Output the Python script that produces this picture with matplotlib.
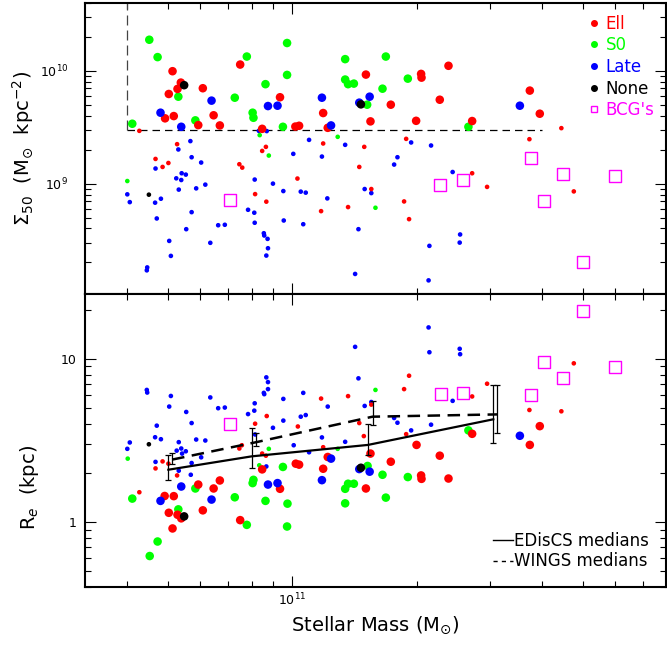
import matplotlib.pyplot as plt
import numpy as np
from matplotlib.lines import Line2D
from matplotlib.ticker import FuncFormatter, NullFormatter

# all values are log10: stellar mass (Msun), Sigma50 (Msun kpc^-2), Re (kpc)
sig_ell_big = [(10.711, 9.997), (10.731, 9.896), (10.723, 9.840), (10.702, 9.795), (10.693, 9.579),
               (10.714, 9.599), (10.784, 9.846), (10.810, 9.606), (10.825, 9.516), (10.773, 9.519),
               (10.874, 10.056), (10.970, 9.766), (10.927, 9.486), (11.007, 9.506), (11.016, 9.513),
               (11.074, 9.626), (11.085, 9.495), (11.177, 9.967), (11.188, 9.552), (11.237, 9.700),
               (11.298, 9.557), (11.310, 9.973), (11.311, 9.940), (11.376, 10.045), (11.355, 9.744),
               (11.433, 9.555), (11.572, 9.825), (11.596, 9.620)]
sig_s0_big = [(10.655, 10.276), (10.675, 10.122), (10.614, 9.531), (10.725, 9.771), (10.766, 9.561),
              (10.861, 9.762), (10.890, 10.127), (10.935, 9.882), (10.904, 9.629), (10.906, 9.584),
              (10.987, 10.247), (10.987, 9.964), (10.977, 9.504), (11.127, 10.104), (11.225, 10.127),
              (11.127, 9.923), (11.134, 9.882), (11.148, 9.887), (11.217, 9.842), (11.278, 9.931),
              (11.180, 9.700), (11.424, 9.504)]
sig_late_big = [(10.682, 9.629), (10.732, 9.504), (10.805, 9.736), (10.941, 9.688), (10.964, 9.691),
                (11.071, 9.762), (11.093, 9.516), (11.161, 9.718), (11.186, 9.771), (11.548, 9.691)]
sig_none_big = [(10.739, 9.873), (11.165, 9.703)]

sig_ell_small = [(10.631, 9.468), (10.722, 9.350), (10.670, 9.219), (10.687, 9.148), (10.701, 9.183),
                 (10.872, 9.172), (10.879, 9.142), (10.936, 9.326), (10.927, 9.290), (10.910, 8.907),
                 (10.937, 8.840), (11.074, 9.356), (11.012, 9.045), (11.173, 9.326), (11.161, 9.148),
                 (11.190, 8.952), (11.274, 9.397), (11.134, 8.792), (11.069, 8.756), (11.269, 8.842),
                 (11.281, 8.685), (11.433, 9.092), (11.469, 8.971), (11.648, 9.492), (11.571, 9.394),
                 (11.678, 8.931)]
sig_s0_small = [(10.602, 9.023), (10.921, 9.430), (10.943, 9.249), (11.109, 9.415), (11.200, 8.786)]
sig_none_small = [(10.654, 8.902)]
sig_late_small = [(10.919, 9.468), (10.938, 9.466), (10.754, 9.377), (10.725, 9.303), (10.757, 9.234),
                  (10.780, 9.187), (10.670, 9.134), (10.733, 9.092), (10.743, 9.080), (10.720, 9.047),
                  (10.732, 9.032), (10.790, 8.991), (10.768, 8.958), (10.726, 8.947), (10.602, 8.905),
                  (10.608, 8.836), (10.683, 8.866), (10.669, 8.831), (10.673, 8.691), (10.757, 8.747),
                  (10.744, 8.596), (10.703, 8.492), (10.707, 8.359), (10.650, 8.257), (10.649, 8.231),
                  (10.802, 8.475), (10.821, 8.631), (10.837, 8.635), (10.893, 8.768), (10.908, 8.742),
                  (10.909, 8.653), (10.909, 9.036), (10.953, 9.000), (10.978, 8.934), (10.979, 8.673),
                  (10.931, 8.560), (10.932, 8.540), (10.940, 8.510), (10.941, 8.427), (10.937, 8.362),
                  (11.002, 9.264), (11.040, 9.388), (11.071, 9.240), (11.127, 9.344), (11.286, 9.365),
                  (11.334, 9.338), (11.253, 9.234), (11.245, 9.169), (11.386, 9.103), (11.020, 8.929),
                  (11.032, 8.920), (11.174, 8.952), (11.190, 8.916), (11.084, 8.869), (11.026, 8.640),
                  (11.159, 8.596), (11.404, 8.549), (11.403, 8.477), (11.330, 8.448), (11.151, 8.199),
                  (11.328, 8.142)]
sig_bcg = [(10.850, 8.851), (11.356, 8.988), (11.411, 9.032), (11.576, 9.225), (11.651, 9.089),
           (11.777, 9.071), (11.607, 8.842), (11.700, 8.305)]

re_ell_big = [(10.773, 0.230), (10.825, 0.255), (10.810, 0.206), (10.692, 0.160), (10.714, 0.159),
              (10.702, 0.057), (10.723, 0.045), (10.732, 0.023), (10.711, -0.039), (10.784, 0.072),
              (10.874, 0.012), (10.927, 0.323), (10.970, 0.204), (11.008, 0.358), (11.016, 0.352),
              (11.074, 0.327), (11.085, 0.399), (11.188, 0.420), (11.237, 0.370), (11.299, 0.473),
              (11.355, 0.407), (11.310, 0.286), (11.311, 0.265), (11.376, 0.267), (11.177, 0.206),
              (11.433, 0.541), (11.596, 0.588), (11.572, 0.473)]
re_s0_big = [(10.614, 0.144), (10.766, 0.206), (10.725, 0.078), (10.675, -0.119), (10.656, -0.208),
             (10.861, 0.152), (10.906, 0.259), (10.904, 0.239), (10.890, -0.017), (10.935, 0.130),
             (10.977, 0.338), (10.988, 0.113), (10.987, -0.027), (11.424, 0.562), (11.181, 0.344),
             (11.217, 0.290), (11.278, 0.276), (11.134, 0.235), (11.148, 0.235), (11.127, 0.204),
             (11.127, 0.115), (11.225, 0.150)]
re_late_big = [(10.732, 0.218), (10.682, 0.130), (10.805, 0.138), (10.941, 0.230), (10.964, 0.239),
               (11.093, 0.389), (11.161, 0.325), (11.186, 0.309), (11.071, 0.257), (11.548, 0.529)]
re_none_big = [(10.739, 0.035), (11.165, 0.333)]

re_ell_small = [(10.631, 0.183), (10.670, 0.329), (10.687, 0.372), (10.701, 0.358), (10.722, 0.286),
                (10.872, 0.451), (10.878, 0.471), (10.938, 0.650), (10.910, 0.603), (10.927, 0.420),
                (10.936, 0.407), (11.281, 0.897), (11.269, 0.815), (11.134, 0.772), (11.069, 0.757),
                (11.190, 0.720), (11.013, 0.586), (11.161, 0.607), (11.172, 0.527), (11.274, 0.539),
                (11.074, 0.459), (11.433, 0.770), (11.469, 0.848), (11.678, 0.973), (11.571, 0.687),
                (11.648, 0.679)]
re_s0_small = [(10.603, 0.389), (10.943, 0.449), (10.920, 0.348), (11.200, 0.810), (11.109, 0.449)]
re_none_small = [(10.654, 0.477)]
re_late_small = [(10.649, 0.810), (10.650, 0.794), (10.707, 0.773), (10.703, 0.708), (10.744, 0.675),
                 (10.802, 0.764), (10.821, 0.698), (10.837, 0.702), (10.673, 0.591), (10.757, 0.607),
                 (10.608, 0.488), (10.602, 0.449), (10.669, 0.520), (10.683, 0.508), (10.726, 0.490),
                 (10.768, 0.506), (10.790, 0.500), (10.721, 0.438), (10.732, 0.451), (10.743, 0.434),
                 (10.734, 0.420), (10.780, 0.397), (10.670, 0.369), (10.757, 0.362), (10.726, 0.315),
                 (10.755, 0.290), (10.937, 0.887), (10.941, 0.858), (10.941, 0.815), (10.931, 0.792),
                 (10.932, 0.784), (10.909, 0.728), (10.908, 0.683), (10.893, 0.662), (10.978, 0.755),
                 (10.978, 0.622), (10.953, 0.578), (10.910, 0.537), (11.003, 0.471), (10.937, 0.341),
                 (11.328, 1.193), (11.151, 1.074), (11.330, 1.041), (11.403, 1.062), (11.404, 1.029),
                 (11.159, 0.881), (11.026, 0.792), (11.085, 0.708), (11.174, 0.712), (11.190, 0.736),
                 (11.386, 0.743), (11.020, 0.646), (11.032, 0.656), (11.245, 0.638), (11.253, 0.609),
                 (11.334, 0.597), (11.286, 0.562), (11.071, 0.519), (11.127, 0.492), (11.040, 0.428)]
re_bcg = [(10.850, 0.601), (11.357, 0.784), (11.411, 0.790), (11.701, 1.294), (11.607, 0.981),
          (11.777, 0.951), (11.651, 0.881), (11.576, 0.776)]

# medians with error bars (log10)
ediscs_logm = [10.701, 10.902, 11.182, 11.484]
ediscs_logre = [0.321, 0.403, 0.473, 0.630]
ediscs_lo = [0.257, 0.331, 0.414, 0.483]
ediscs_hi = [0.411, 0.576, 0.599, 0.841]
wings_logm = [10.710, 10.913, 11.193, 11.494]
wings_logre = [0.383, 0.490, 0.646, 0.660]
wings_lo = [0.358, 0.469, 0.594, 0.548]
wings_hi = [0.424, 0.543, 0.743, 0.841]

# selection box in the top panel
sigma_cut = 3e9
mass_cut = 4e10
mass_box_end = 4e11

RED = "#ff0000"
GREEN = "#00ff00"
BLUE = "#0000ff"
MAG = "#ff00ff"
BIG = 38
SMALL = 11


def dots(axe, pts, color, size):
    pts = np.array(pts)
    axe.scatter(10 ** pts[:, 0], 10 ** pts[:, 1], s=size, c=color,
                edgecolors="none", zorder=3)


def squares(axe, pts):
    pts = np.array(pts)
    axe.scatter(10 ** pts[:, 0], 10 ** pts[:, 1], s=75, marker="s",
                facecolors="none", edgecolors=MAG, linewidths=1.0, zorder=3)


def style_axe(axe):
    axe.set_xscale("log")
    axe.set_yscale("log")
    axe.set_xlim(10 ** 10.5, 10 ** 11.9)
    axe.tick_params(which="both", direction="in", top=True, right=True,
                    width=0.8, labelsize=9)
    axe.tick_params(which="major", length=8)
    axe.tick_params(which="minor", length=4.5)
    axe.xaxis.set_minor_formatter(NullFormatter())
    axe.yaxis.set_minor_formatter(NullFormatter())
    for sp in axe.spines.values():
        sp.set_linewidth(1.5)


fig = plt.figure(figsize=(6.67, 6.47), dpi=100)
ax1 = fig.add_axes([0.1274, 0.5456, 0.871, 0.4498])
ax2 = fig.add_axes([0.1274, 0.0927, 0.871, 0.4529])

# top panel
style_axe(ax1)
ax1.set_ylim(1.05e8, 4e10)
ax1.tick_params(axis="x", labelbottom=False)
ax1.tick_params(axis="y", which="major", pad=12)
for pts, col in [(sig_late_small, BLUE), (sig_ell_small, RED), (sig_s0_small, GREEN), (sig_none_small, "k")]:
    dots(ax1, pts, col, SMALL)
for pts, col in [(sig_s0_big, GREEN), (sig_ell_big, RED), (sig_late_big, BLUE), (sig_none_big, "k")]:
    dots(ax1, pts, col, BIG)
squares(ax1, sig_bcg)
ax1.plot([mass_cut, mass_box_end], [sigma_cut, sigma_cut], color="k", lw=0.9,
         dashes=(6, 4))
ax1.plot([mass_cut, mass_cut], [sigma_cut, 4e10], color="#444444", lw=0.9,
         dashes=(8, 4))
ax1.set_ylabel(r"$\Sigma_{50}$  (M$_{\odot}$  kpc$^{-2}$)", fontsize=14)
ax1.yaxis.set_label_coords(-0.085, 0.5)

handles = [
    Line2D([], [], ls="none", marker="o", color=RED, markersize=4, label="Ell"),
    Line2D([], [], ls="none", marker="o", color=GREEN, markersize=4, label="S0"),
    Line2D([], [], ls="none", marker="o", color=BLUE, markersize=4, label="Late"),
    Line2D([], [], ls="none", marker="o", color="k", markersize=4, label="None"),
    Line2D([], [], ls="none", marker="s", mfc="none", mec=MAG, markersize=5,
           label="BCG's"),
]
ax1.legend(handles=handles, loc="upper right", frameon=False, fontsize=12,
           labelcolor=[RED, GREEN, BLUE, "k", MAG], handlelength=0.8,
           handletextpad=0.3, labelspacing=0.22, borderaxespad=0.3)

# bottom panel
style_axe(ax2)
ax2.set_ylim(0.4, 25)
ax2.tick_params(axis="y", which="major", pad=6)
ax2.yaxis.set_major_formatter(FuncFormatter(lambda v, p: "%g" % v))
for pts, col in [(re_late_small, BLUE), (re_ell_small, RED), (re_s0_small, GREEN), (re_none_small, "k")]:
    dots(ax2, pts, col, SMALL)
for pts, col in [(re_s0_big, GREEN), (re_ell_big, RED), (re_late_big, BLUE), (re_none_big, "k")]:
    dots(ax2, pts, col, BIG)
squares(ax2, re_bcg)

em = 10 ** np.array(ediscs_logm)
er = 10 ** np.array(ediscs_logre)
wm = 10 ** np.array(wings_logm)
wr = 10 ** np.array(wings_logre)
ax2.plot(em, er, color="k", lw=1.6, zorder=4)
ax2.errorbar(em, er, yerr=[er - 10 ** np.array(ediscs_lo), 10 ** np.array(ediscs_hi) - er],
             fmt="none", ecolor="k", elinewidth=0.9, capsize=2.5, capthick=0.9, zorder=4)
ax2.plot(wm, wr, color="k", lw=1.8, dashes=(5, 3), zorder=4)
ax2.errorbar(wm, wr, yerr=[wr - 10 ** np.array(wings_lo), 10 ** np.array(wings_hi) - wr],
             fmt="none", ecolor="k", elinewidth=0.9, capsize=2.5, capthick=0.9, zorder=4)

ax2.set_ylabel(r"R$_e$  (kpc)", fontsize=14)
ax2.yaxis.set_label_coords(-0.075, 0.34)
ax2.set_xlabel(r"Stellar Mass (M$_{\odot}$)", fontsize=14)

med_handles = [
    Line2D([], [], color="k", lw=1.0, label="EDisCS medians"),
    Line2D([], [], color="k", lw=1.0, dashes=(3, 3), label="WINGS medians"),
]
ax2.legend(handles=med_handles, loc="lower right", frameon=False, fontsize=12,
           handlelength=1.2, handletextpad=0.1, labelspacing=0.15, borderaxespad=0.6)

plt.savefig("out.png", dpi=100)
plt.close()
